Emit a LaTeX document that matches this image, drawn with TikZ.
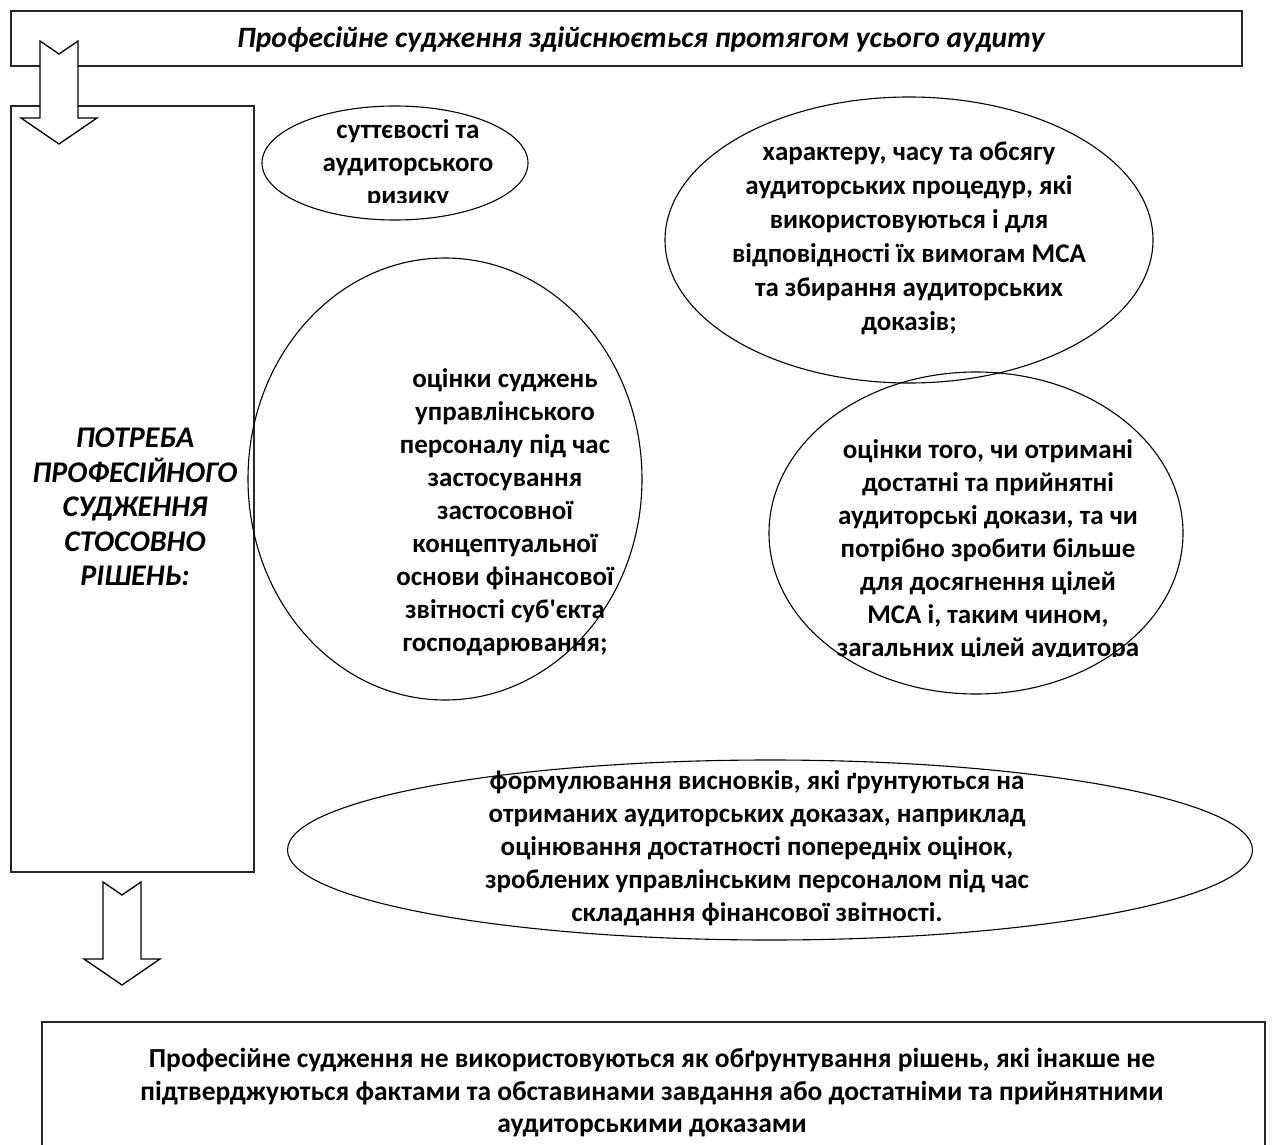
\documentclass[tikz,border=0pt]{standalone}
\usepackage{fontspec}
\setmainfont{Carlito}[Ligatures=TeXOff]
\usetikzlibrary{shapes.geometric}

\begin{document}
\begin{tikzpicture}[
  x=1pt, y=-1pt,
  font=\bfseries\fontsize{27}{33}\selectfont,
  box/.style={draw=black!85, line width=1.6pt},
  oval/.style={ellipse, draw=black, line width=1.1pt, inner sep=0pt},
  txt/.style={align=center, inner sep=0pt},
  blockarr/.style={draw=black, fill=white, line width=1.3pt, line join=miter},
]
\useasboundingbox (0,0) rectangle (1286,1145);

% ====================== frame boxes ====================================
\draw[box] (11,11) rectangle (1242,66);
\node[txt, font=\bfseries\itshape\fontsize{29.5}{33}\selectfont] (topbox) at (641,40)
  {Професійне судження здійснюється протягом усього аудиту};

\draw[box] (11,106) rectangle (254,872);
\node[txt, font=\bfseries\itshape\fontsize{30}{34.5}\selectfont] (need) at (135,507)
  {ПОТРЕБА\\ПРОФЕСІЙНОГО\\СУДЖЕННЯ\\СТОСОВНО\\РІШЕНЬ:};

\draw[box] (42,1160) -- (42,1022) -- (1265,1022) -- (1265,1160);
\node[txt, font=\bfseries\fontsize{27.5}{32.5}\selectfont] (concl) at (652,1093)
  {Професійне судження не використовуються як обґрунтування рішень, які інакше не\\
   підтверджуються фактами та обставинами завдання або достатніми та прийнятними\\
   аудиторськими доказами};

% ====================== ovals ==========================================
\node[oval, minimum width=266pt, minimum height=114pt] (e1) at (395,163) {};
\begin{scope}
  \clip (262,100) rectangle (530,203);
  \node[txt] (t1) at (408,164) {суттєвості та\\аудиторського\\ризику};
\end{scope}

\node[oval, minimum width=488pt, minimum height=286pt] (e2) at (909,240) {};
\node[txt, font=\bfseries\fontsize{27}{34}\selectfont] (t2) at (909,238)
  {характеру, часу та обсягу\\аудиторських процедур, які\\використовуються і для\\
   відповідності їх вимогам МСА\\та збирання аудиторських\\доказів;};

\node[oval, minimum width=394pt, minimum height=442pt] (e3) at (445,479) {};
\node[txt] (t3) at (505,512)
  {оцінки суджень\\управлінського\\персоналу під час\\застосування\\застосовної\\
   концептуальної\\основи фінансової\\звітності суб'єкта\\господарювання;};

\node[oval, minimum width=414pt, minimum height=322pt] (e4) at (976,533) {};
\begin{scope}
  \clip (760,370) rectangle (1190,656);
  \node[txt] (t4) at (988,550)
    {оцінки того, чи отримані\\достатні та прийнятні\\аудиторські докази, та чи\\
     потрібно зробити більше\\для досягнення цілей\\МСА і, таким чином,\\
     загальних цілей аудитора};
\end{scope}

\node[oval, minimum width=965pt, minimum height=180pt] (e5) at (770,850) {};
\node[txt] (t5) at (757,848)
  {формулювання висновків, які ґрунтуються на\\отриманих аудиторських доказах, наприклад\\
   оцінювання достатності попередніх оцінок,\\зроблених управлінським персоналом під час\\
   складання фінансової звітності.};

% ====================== block arrows ===================================
\coordinate (arrtop) at (59,41);
\coordinate (arrbot) at (122,882);
\draw[blockarr] (arrtop) ++(-19,0) -- ++(19,13) -- ++(19,-13) -- ++(0,77)
  -- ++(19,0) -- ++(-38,26) -- ++(-38,-26) -- ++(19,0) -- cycle;
\draw[blockarr] (arrbot) ++(-19,0) -- ++(19,13) -- ++(19,-13) -- ++(0,77)
  -- ++(19,0) -- ++(-38,26) -- ++(-38,-26) -- ++(19,0) -- cycle;

\end{tikzpicture}
\end{document}
